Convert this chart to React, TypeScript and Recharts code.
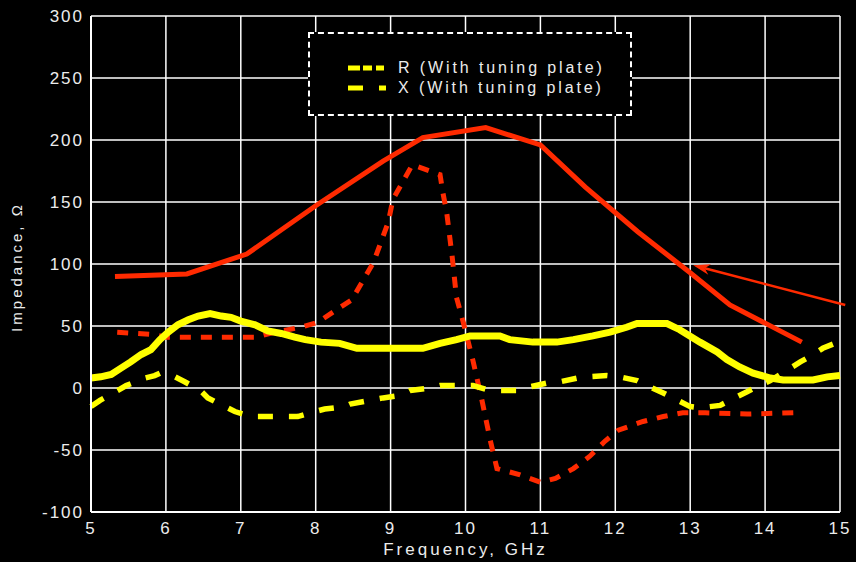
import { LineChart, Line, XAxis, YAxis, CartesianGrid, Legend, ReferenceLine } from "recharts";

// frequency (GHz) / impedance (ohm)
const redSolidX = [5.32, 6.28, 7.08, 8.0, 8.9, 9.43, 10.27, 11.0, 11.6, 12.3, 13.0, 13.53, 14.49];
const redSolidY = [90, 92, 108, 147, 183, 202, 210, 196, 162, 126, 93, 67, 37];

const redDashX = [5.35, 5.85, 6.0, 7.2, 7.46, 7.8, 8.03, 8.3, 8.48, 8.77, 8.97, 9.03, 9.29, 9.66, 9.7, 9.75, 9.82, 9.88, 9.97, 10.1, 10.22, 10.33, 10.42, 10.73, 11.0, 11.2, 11.44, 11.66, 11.86, 12.04, 12.37, 12.64, 12.9, 13.2, 13.76, 14.38];
const redDashY = [45, 43, 41, 41, 45, 49, 53, 64, 71, 101, 134, 152, 180, 172, 157, 141, 107, 73, 53, 22, -10, -42, -65, -70, -76, -73, -65, -55, -43, -34, -27, -23, -20, -20, -21, -20];

const yelSolidX = [5.0, 5.13, 5.27, 5.4, 5.53, 5.67, 5.8, 5.92, 6.03, 6.16, 6.3, 6.43, 6.59, 6.74, 6.87, 7.0, 7.19, 7.36, 7.54, 7.72, 7.86, 8.07, 8.32, 8.55, 8.77, 9.43, 9.66, 9.88, 10.06, 10.46, 10.59, 10.9, 11.22, 11.44, 11.7, 11.93, 12.15, 12.29, 12.69, 12.86, 13.13, 13.36, 13.49, 13.66, 13.84, 14.07, 14.24, 14.64, 14.83, 15.0];
const yelSolidY = [8, 9, 11, 16, 21, 27, 31, 39, 45, 51, 55, 58, 60, 58, 57, 54, 51, 46, 44, 41, 39, 37, 36, 32, 32, 32, 36, 39, 42, 42, 39, 37, 37, 39, 42, 45, 49, 52, 52, 47, 37, 29, 23, 17, 12, 8, 6.5, 6.5, 9, 10];

const yelDashX = [5.0, 5.12, 5.36, 5.47, 5.72, 5.85, 5.92, 6.12, 6.25, 6.46, 6.56, 6.79, 6.92, 7.14, 7.76, 7.99, 8.12, 8.39, 8.46, 8.72, 8.9, 9.13, 9.26, 9.53, 9.66, 9.93, 10.1, 10.33, 10.73, 10.86, 11.09, 11.26, 11.49, 11.62, 11.89, 12.06, 12.29, 12.42, 12.64, 12.77, 13.0, 13.13, 13.4, 13.53, 13.76, 13.89, 14.07, 14.23, 14.47, 14.56, 14.77, 14.93];
const yelDashY = [-15, -10, -2, 2, 8, 10, 12, 9, 5, -2, -8, -15, -19, -23, -23, -19, -17, -15, -13, -10, -8, -6, -2, 0, 2, 2, 2, -2, -2, 1, 4, 5, 8, 9, 10, 9, 6, 2, -4, -8, -15, -16, -14, -10, -3, 1, 6, 12, 21, 24, 32, 36];

const xTicks = [5, 6, 7, 8, 9, 10, 11, 12, 13, 14, 15];
const yTicks = [-100, -50, 0, 50, 100, 150, 200, 250, 300];

const legendLabels = ["R (With tuning plate)", "X (With tuning plate)"];
const legendDash = ["12 3 9 4 8", "15 16 8"];

// arrow annotation pointing at the red curve
const arrowFrom = { x: 15.07, y: 67 };
const arrowTo = { x: 13.04, y: 99 };

const zip = (xs: number[], ys: number[]) => xs.map((x, i) => ({ x, y: ys[i] }));

const RED = "#ff2a00";
const YEL = "#ffff00";
const TXT = "#ececec";
const FONT = "'Liberation Sans', Arial, sans-serif";

function ArrowShape(props: any) {
  const { x1, y1, x2, y2 } = props;
  if ([x1, y1, x2, y2].some((v) => typeof v !== "number")) return null;
  const ang = Math.atan2(y2 - y1, x2 - x1);
  const len = 17;
  const half = 5.5;
  const bx = x2 - len * Math.cos(ang);
  const by = y2 - len * Math.sin(ang);
  const nx = -Math.sin(ang) * half;
  const ny = Math.cos(ang) * half;
  const notchX = x2 - len * 0.7 * Math.cos(ang);
  const notchY = y2 - len * 0.7 * Math.sin(ang);
  return (
    <g>
      <line x1={x1} y1={y1} x2={notchX} y2={notchY} stroke={RED} strokeWidth={2.5} />
      <polygon
        points={`${x2},${y2} ${bx + nx},${by + ny} ${notchX},${notchY} ${bx - nx},${by - ny}`}
        fill={RED}
      />
    </g>
  );
}

function LegendBox() {
  return (
    <div
      style={{
        width: 324,
        height: 84,
        border: "2px dashed #ffffff",
        background: "#000",
        boxSizing: "border-box",
        position: "relative",
        fontFamily: FONT,
        fontSize: 16,
        letterSpacing: 2.9,
        color: TXT,
      }}
    >
      {legendLabels.map((label, i) => (
        <div key={label} style={{ position: "absolute", left: 36, top: 25 + i * 20, display: "flex", alignItems: "center" }}>
          <svg width={42} height={10} style={{ marginRight: 10 }}>
            <line x1={2} y1={5} x2={40} y2={5} stroke={YEL} strokeWidth={5} strokeDasharray={legendDash[i]} />
          </svg>
          <span>{label}</span>
        </div>
      ))}
    </div>
  );
}

const tickStyle = { fill: TXT, fontSize: 17, fontFamily: FONT, letterSpacing: 2 };

export default function App() {
  return (
    <div style={{ position: "absolute", left: 0, top: 0, width: 856, height: 562, background: "#000" }}>
      <LineChart width={856} height={562} margin={{ top: 16, right: 16, left: 0, bottom: 0 }}>
        <CartesianGrid stroke="#ffffff" strokeWidth={1.5} />
        <XAxis
          type="number"
          dataKey="x"
          domain={[5, 15]}
          ticks={xTicks}
          height={50}
          allowDuplicatedCategory={false}
          stroke="#ffffff"
          strokeWidth={2}
          tickLine={false}
          tick={tickStyle}
          tickMargin={4}
          label={{ value: "Frequency, GHz", position: "insideBottom", offset: 7, fill: TXT, fontSize: 17, fontFamily: FONT, letterSpacing: 3 }}
        />
        <YAxis
          type="number"
          dataKey="y"
          domain={[-100, 300]}
          ticks={yTicks}
          width={91}
          stroke="#ffffff"
          strokeWidth={2}
          tickLine={false}
          tick={tickStyle}
          tickMargin={1}
          label={{
            content: () => (
              <text x={18} y={267} transform="rotate(-90 18 267)" textAnchor="middle" dominantBaseline="middle" fill={TXT} fontSize={15} fontFamily={FONT} letterSpacing={3}>
                Impedance, Ω
              </text>
            ),
          }}
        />
        <Legend
          layout="vertical"
          align="center"
          verticalAlign="middle"
          wrapperStyle={{ left: 308, top: 32, width: 324, height: 84 }}
          content={() => <LegendBox />}
        />
        <Line data={zip(redSolidX, redSolidY)} dataKey="y" stroke={RED} strokeWidth={5} dot={false} isAnimationActive={false} legendType="none" />
        <Line data={zip(redDashX, redDashY)} dataKey="y" stroke={RED} strokeWidth={5} strokeDasharray="11 10" dot={false} isAnimationActive={false} legendType="none" />
        <Line data={zip(yelSolidX, yelSolidY)} dataKey="y" stroke={YEL} strokeWidth={7} dot={false} isAnimationActive={false} legendType="none" />
        <Line data={zip(yelDashX, yelDashY)} dataKey="y" stroke={YEL} strokeWidth={5.5} strokeDasharray="15 16" dot={false} isAnimationActive={false} legendType="none" />
        <ReferenceLine segment={[arrowFrom, arrowTo]} ifOverflow="visible" shape={ArrowShape} />
      </LineChart>
    </div>
  );
}
